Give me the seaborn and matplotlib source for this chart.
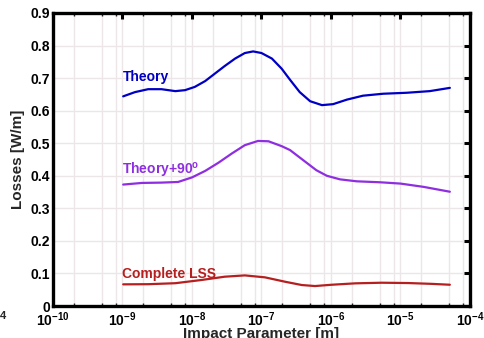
import numpy as np
import pandas as pd
import matplotlib
matplotlib.use("Agg")
import matplotlib.pyplot as plt
import seaborn as sns
from matplotlib.ticker import FixedLocator, NullFormatter

# ---- data (x as log10 of impact parameter) ----
theory_logx = [-8.99, -8.82, -8.63, -8.44, -8.24, -8.10, -7.96, -7.81, -7.67, -7.53,
               -7.38, -7.24, -7.12, -7.00, -6.85, -6.71, -6.59, -6.45, -6.30, -6.13,
               -5.97, -5.77, -5.54, -5.25, -4.91, -4.58, -4.29]
theory_y = [0.644, 0.657, 0.666, 0.666, 0.660, 0.663, 0.673, 0.691, 0.714, 0.737,
            0.760, 0.777, 0.782, 0.777, 0.760, 0.729, 0.695, 0.657, 0.629, 0.617,
            0.620, 0.634, 0.646, 0.652, 0.655, 0.660, 0.670]

theory90_logx = [-8.99, -8.72, -8.44, -8.20, -8.00, -7.81, -7.62, -7.43, -7.24, -7.05,
                 -6.90, -6.71, -6.59, -6.40, -6.21, -6.06, -5.87, -5.63, -5.29, -5.00,
                 -4.67, -4.29]
theory90_y = [0.373, 0.378, 0.379, 0.381, 0.395, 0.415, 0.440, 0.468, 0.494, 0.507,
              0.506, 0.491, 0.479, 0.448, 0.417, 0.400, 0.389, 0.383, 0.380, 0.376,
              0.366, 0.351]

lss_logx = [-8.99, -8.63, -8.24, -7.86, -7.53, -7.24, -6.95, -6.66, -6.42, -6.23,
            -5.99, -5.65, -5.27, -4.89, -4.55, -4.29]
lss_y = [0.0665, 0.0670, 0.0700, 0.0800, 0.0900, 0.0940, 0.0880, 0.0745, 0.0644, 0.0613,
         0.0653, 0.0696, 0.0715, 0.0705, 0.0680, 0.0653]

series_names = ["Theory", "Theory+90", "Complete LSS"]
series_labels = ["Theory", r"Theory+90$^\mathbf{o}$", "Complete LSS"]
series_colors = ["#0000c4", "#8e2ee0", "#b51f1f"]
label_y = [0.703, 0.417, 0.098]

y_ticks = [0, 0.1, 0.2, 0.3, 0.4, 0.5, 0.6, 0.7, 0.8, 0.9]
y_ticklabels = ["0", "0.1", "0.2", "0.3", "0.4", "0.5", "0.6", "0.7", "0.8", "0.9"]
x_decades = [-10, -9, -8, -7, -6, -5, -4]

frames = []
for name, lx, yy in [("Theory", theory_logx, theory_y),
                     ("Theory+90", theory90_logx, theory90_y),
                     ("Complete LSS", lss_logx, lss_y)]:
    frames.append(pd.DataFrame({"x": 10.0 ** np.array(lx), "y": yy, "series": name}))
df = pd.concat(frames, ignore_index=True)

sns.set_theme(style="white")
plt.rcParams["font.family"] = ["Liberation Sans", "DejaVu Sans"]
plt.rcParams["font.weight"] = "bold"
plt.rcParams["mathtext.fontset"] = "custom"
plt.rcParams["mathtext.rm"] = "Liberation Sans:bold"
plt.rcParams["mathtext.bf"] = "Liberation Sans:bold"
plt.rcParams["mathtext.it"] = "Liberation Sans:bold"

fig = plt.figure(figsize=(4.85, 3.38), dpi=100)
ax = fig.add_axes([53 / 485, 1 - 306 / 338, (470 - 53) / 485, (306 - 13) / 338])

sns.lineplot(data=df, x="x", y="y", hue="series", hue_order=series_names,
             palette=dict(zip(series_names, series_colors)), sort=False,
             estimator=None, linewidth=1.6, legend=False, ax=ax)
for ln in ax.get_lines():
    ln.set_solid_joinstyle("round")
    ln.set_solid_capstyle("round")

ax.set_xscale("log")
ax.set_xlim(1e-10, 1e-4)
ax.set_ylim(0, 0.9)

major_x = [10.0 ** d for d in x_decades]
grid_x = []
for d in x_decades[:-1]:
    for m in (1, 2, 5, 8):
        grid_x.append(m * 10.0 ** d)
minor_x = [g for g in grid_x if g not in major_x]

ax.xaxis.set_major_locator(FixedLocator(major_x))
ax.set_xticklabels([r"$\mathbf{10^{%d}}$" % d for d in x_decades])
ax.xaxis.set_minor_locator(FixedLocator(minor_x))
ax.xaxis.set_minor_formatter(NullFormatter())
ax.set_yticks(y_ticks)
ax.set_yticklabels(y_ticklabels)

for gx in grid_x:
    ax.axvline(gx, color="#ece6e9", lw=1.0, zorder=0)
for gy in y_ticks:
    ax.axhline(gy, color="#ece6e9", lw=1.0, zorder=0)

for s in ax.spines.values():
    s.set_linewidth(2.4)
    s.set_color("black")

ax.tick_params(axis="both", which="major", direction="in", length=4, width=2.2,
               top=True, right=True, labelsize=10, pad=2, colors="black")
ax.tick_params(axis="x", which="minor", direction="in", length=2, width=1,
               top=True, bottom=True)
ax.tick_params(axis="x", which="major", pad=3)
for lab in ax.get_xticklabels() + ax.get_yticklabels():
    lab.set_fontweight("bold")

ax.set_xlabel("Impact Parameter [m]", fontsize=11, fontweight="bold", labelpad=-1.5)
ax.set_ylabel("Losses [W/m]", fontsize=11, fontweight="bold", labelpad=4)

for lab, col, ly in zip(series_labels, series_colors, label_y):
    ax.text(1e-9, ly, lab, color=col, fontsize=10, fontweight="bold",
            ha="left", va="center")

fig.text(0.0, 1 - 316 / 338, "4", fontsize=8, fontweight="bold", ha="left", va="center")

fig.savefig("out.png", dpi=100)
